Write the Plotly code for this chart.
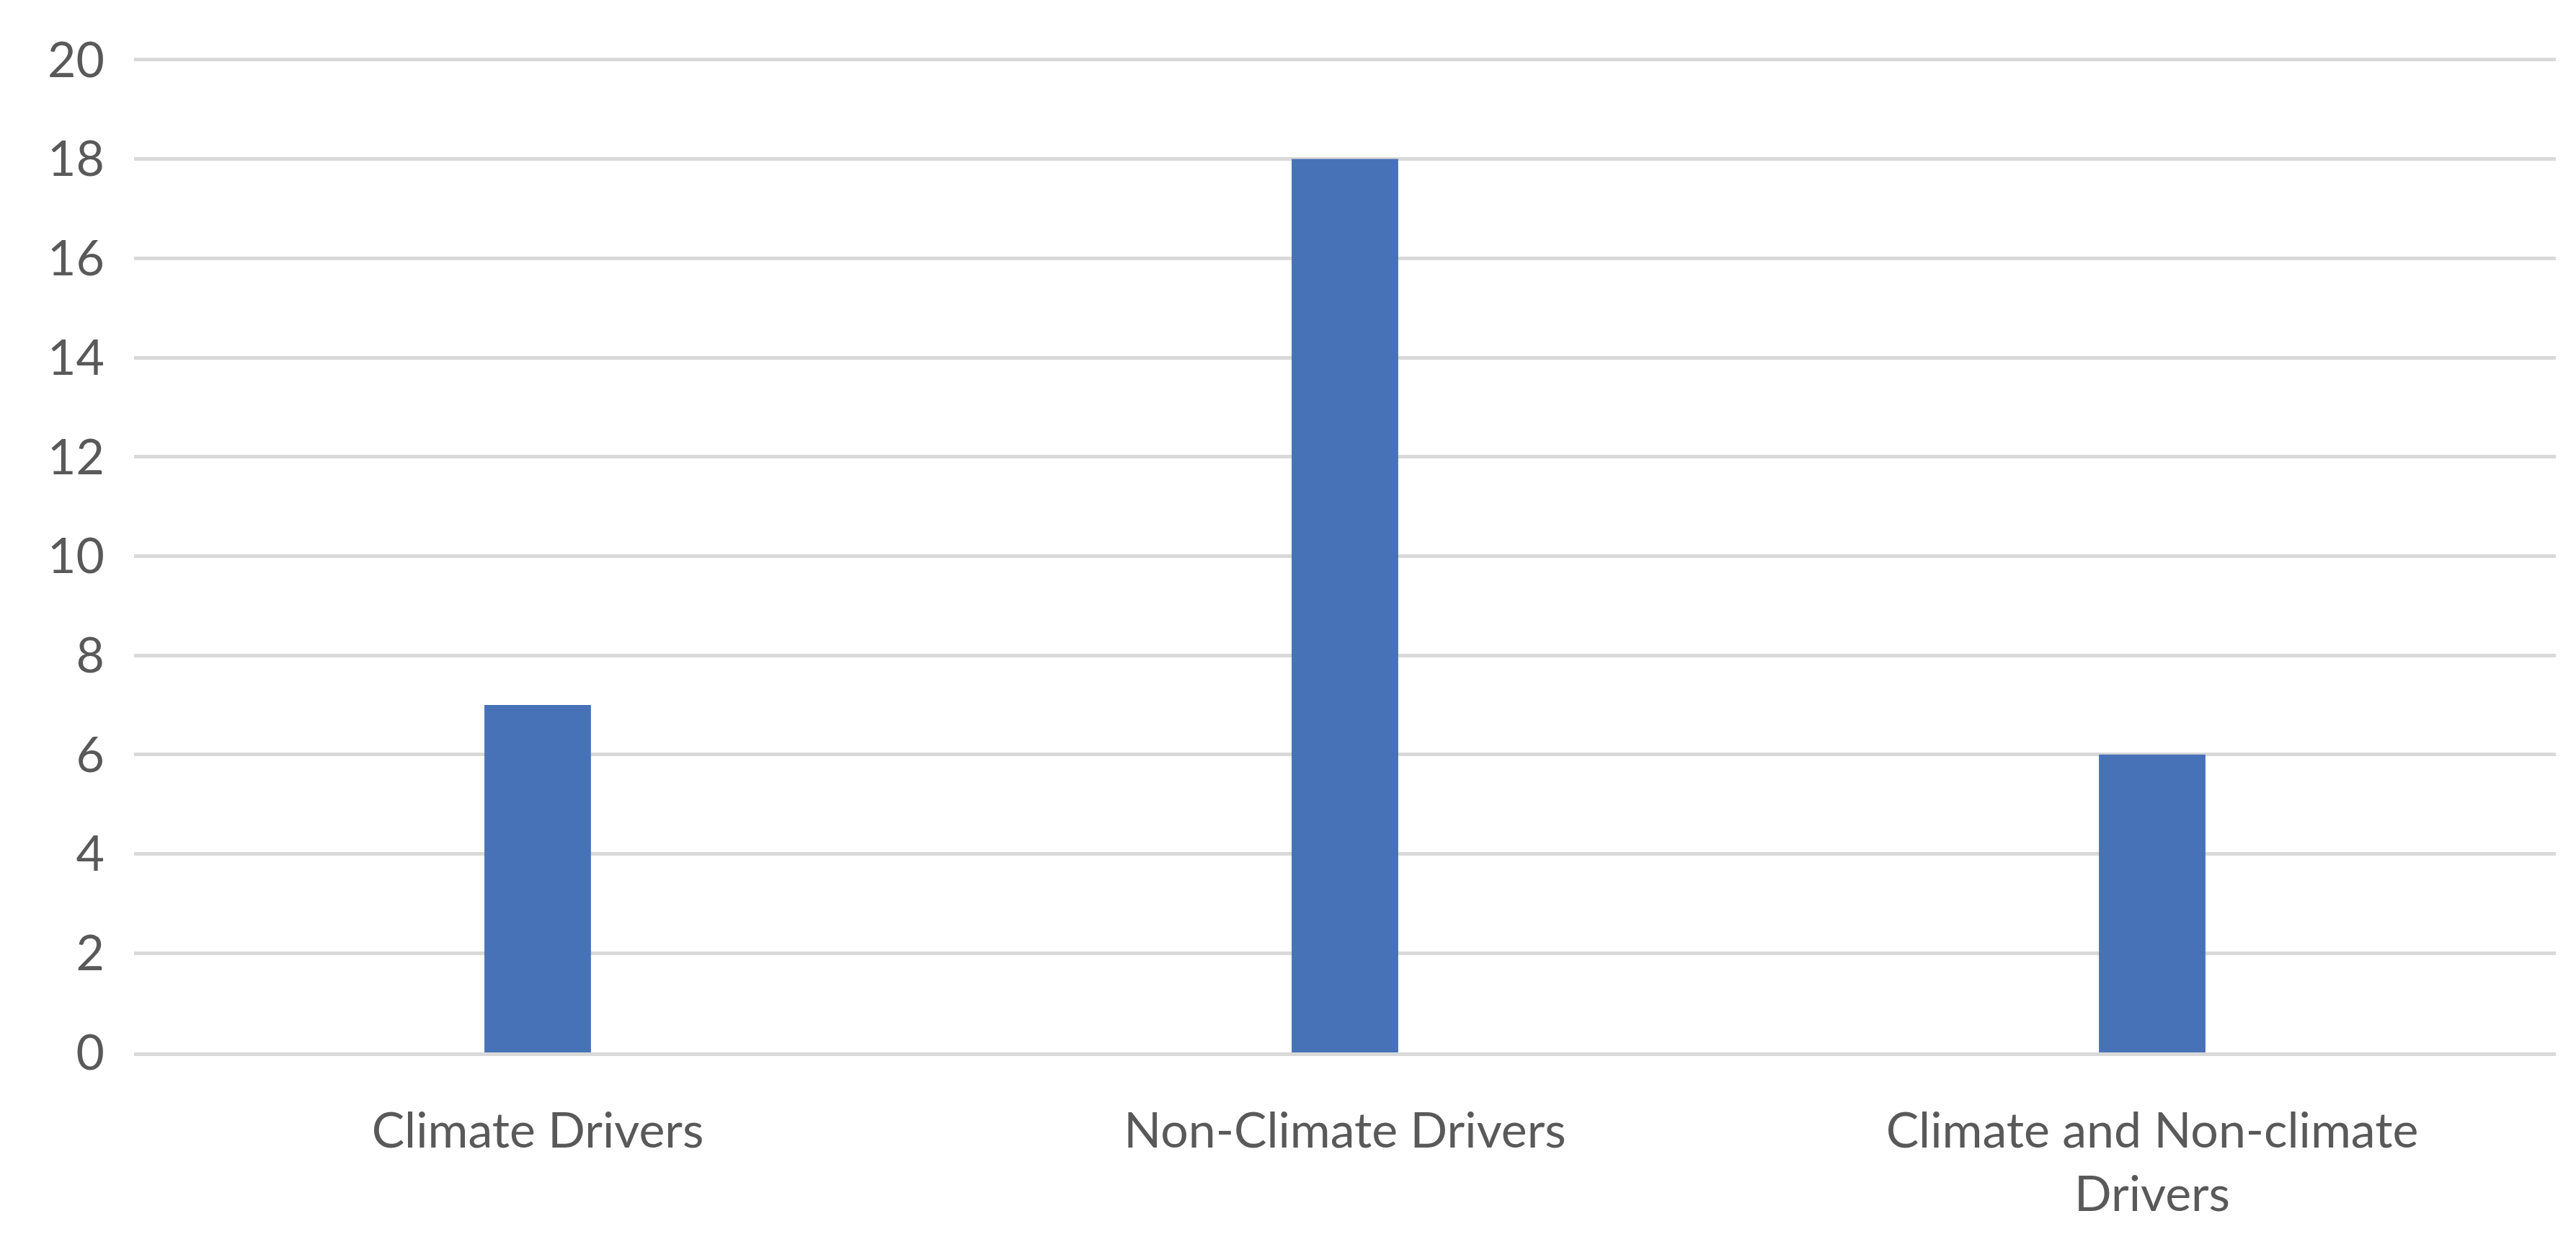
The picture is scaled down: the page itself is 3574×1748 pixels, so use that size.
import plotly.graph_objects as go

categories = ["Climate Drivers", "Non-Climate Drivers", "Climate and Non-climate<br>Drivers"]
counts = [7, 18, 6]
y_ticks = list(range(0, 21, 2))

fig = go.Figure(go.Bar(x=categories, y=counts, marker_color="#4872B8", marker_line_width=0))
fig.update_layout(
    width=3574, height=1748,
    margin=dict(l=178, r=36, t=68, b=296),
    plot_bgcolor="white", paper_bgcolor="white",
    bargap=0.868, showlegend=False,
    font=dict(family="Lato, Noto Sans, sans-serif", size=68, color="#595959"),
)
fig.update_yaxes(range=[0, 20.1], tickvals=y_ticks, gridcolor="#D9D9D9", gridwidth=5,
                 zeroline=False, showline=False, ticklen=0, ticklabelstandoff=40)
fig.update_xaxes(showline=True, linecolor="#D9D9D9", linewidth=5, ticklen=0, ticklabelstandoff=45)
fig.write_html("out.html")
